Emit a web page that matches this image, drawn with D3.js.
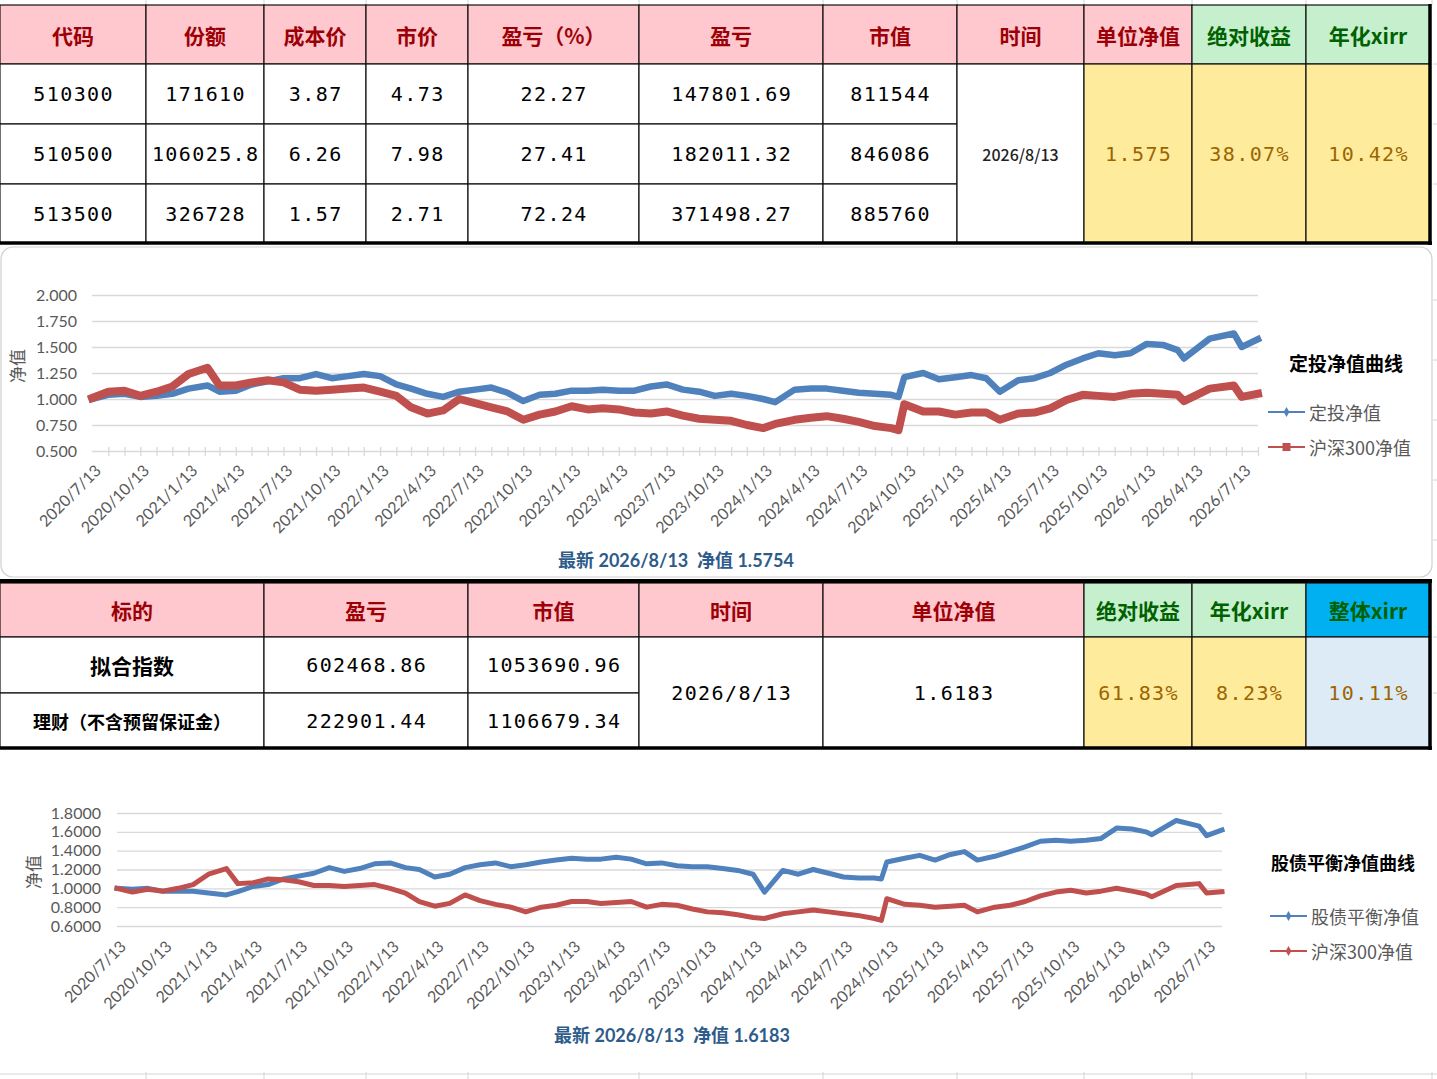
<!DOCTYPE html>
<html><head><meta charset="utf-8">
<script src="https://cdn.jsdelivr.net/npm/d3@7"></script>
<style>html,body{margin:0;padding:0;background:#fff;overflow:hidden}</style>
</head><body><svg id="c" width="1437" height="1079"></svg>
<script>
// ================= DATA =================
const table1Headers = ["代码","份额","成本价","市价","盈亏（%）","盈亏","市值","时间","单位净值","绝对收益","年化xirr"];
const table1Codes = ["510300","510500","513500"];
const table1Shares = ["171610","106025.8","326728"];
const table1Cost = ["3.87","6.26","1.57"];
const table1Price = ["4.73","7.98","2.71"];
const table1PnlPct = ["22.27","27.41","72.24"];
const table1Pnl = ["147801.69","182011.32","371498.27"];
const table1Value = ["811544","846086","885760"];
const table1Date = "2026/8/13";
const table1Summary = ["1.575","38.07%","10.42%"];

const table2Headers = ["标的","盈亏","市值","时间","单位净值","绝对收益","年化xirr","整体xirr"];
const table2Names = ["拟合指数","理财（不含预留保证金）"];
const table2Pnl = ["602468.86","222901.44"];
const table2Value = ["1053690.96","1106679.34"];
const table2Date = "2026/8/13";
const table2Nav = "1.6183";
const table2Summary = ["61.83%","8.23%","10.11%"];

const navDates = [
"2020/7/13","2020/8/13","2020/9/13","2020/10/13","2020/11/13","2020/12/13",
"2021/1/13","2021/2/18","2021/3/13","2021/4/13","2021/5/13","2021/6/13","2021/7/13","2021/8/13","2021/9/13","2021/10/13","2021/11/13","2021/12/13",
"2022/1/13","2022/2/13","2022/3/13","2022/4/13","2022/5/13","2022/6/13","2022/7/13","2022/8/13","2022/9/13","2022/10/13","2022/11/13","2022/12/13",
"2023/1/13","2023/2/13","2023/3/13","2023/4/13","2023/5/13","2023/6/13","2023/7/13","2023/8/13","2023/9/13","2023/10/13","2023/11/13","2023/12/13",
"2024/1/13","2024/2/5","2024/3/13","2024/4/13","2024/5/13","2024/6/13","2024/7/13","2024/8/13","2024/9/13","2024/9/27","2024/10/8","2024/11/13","2024/12/13",
"2025/1/13","2025/2/13","2025/3/13","2025/4/8","2025/5/13","2025/6/13","2025/7/13","2025/8/13","2025/9/13","2025/10/13","2025/11/13","2025/12/13",
"2026/1/13","2026/2/13","2026/3/13","2026/3/25","2026/5/13","2026/6/28","2026/7/13","2026/8/13"];

const dingtouNav = [
1.00,1.04,1.05,1.02,1.03,1.05,1.10,
1.13,
1.07,1.08,1.14,1.17,1.20,1.20,1.24,1.20,1.22,1.24,1.22,
1.14,1.10,1.05,1.02,1.07,1.09,1.11,1.06,0.98,1.04,1.05,1.08,
1.08,1.09,1.08,1.08,1.12,1.14,1.09,1.07,1.03,1.05,1.03,1.00,
0.97,
1.09,1.10,1.10,1.08,1.06,1.05,1.04,
1.02,1.21,
1.25,1.19,1.21,1.23,1.20,
1.07,
1.18,1.20,1.25,1.33,1.39,1.44,1.42,1.44,1.53,1.52,1.47,
1.39,
1.58,1.63,1.50,1.575];

const hs300NavA = [
1.01,1.07,1.08,1.03,1.07,1.12,1.24,
1.30,
1.13,1.13,1.16,1.18,1.16,1.09,1.08,1.09,1.10,1.11,1.07,
1.03,0.92,0.86,0.89,1.00,0.96,0.92,0.88,0.80,0.85,0.88,0.93,
0.90,0.91,0.90,0.87,0.86,0.88,0.84,0.81,0.80,0.79,0.75,0.72,
0.76,
0.80,0.82,0.835,0.81,0.78,0.74,0.72,
0.70,0.95,
0.88,0.88,0.85,0.87,0.87,
0.80,
0.86,0.87,0.91,0.99,1.04,1.03,1.02,1.05,1.06,1.05,1.04,
0.98,
1.10,1.13,1.02,1.05];

const balanceNav = [
1.00,0.99,1.00,0.97,0.97,0.97,0.95,
0.93,
0.965,1.02,1.04,1.10,1.13,1.16,1.22,1.18,1.21,1.26,1.27,
1.22,1.20,1.12,1.15,1.22,1.25,1.27,1.23,1.25,1.28,1.30,1.32,
1.31,1.31,1.33,1.31,1.26,1.27,1.24,1.23,1.23,1.21,1.19,1.15,
0.96,
1.19,1.15,1.20,1.16,1.12,1.11,1.11,
1.10,1.28,
1.32,1.35,1.30,1.36,1.39,
1.30,
1.34,1.39,1.44,1.50,1.51,1.50,1.51,1.53,1.64,1.63,1.60,
1.57,
1.72,1.66,1.56,1.62];

const hs300NavB = [
1.00,0.96,0.99,0.97,1.00,1.04,1.15,
1.21,
1.05,1.06,1.10,1.09,1.07,1.03,1.03,1.02,1.03,1.04,1.00,
0.95,0.86,0.81,0.84,0.93,0.87,0.83,0.80,0.75,0.80,0.82,0.86,
0.86,0.84,0.85,0.86,0.80,0.83,0.82,0.78,0.75,0.74,0.72,0.69,
0.68,
0.73,0.75,0.77,0.75,0.73,0.71,0.68,
0.66,0.89,
0.83,0.82,0.80,0.81,0.82,
0.75,
0.80,0.82,0.86,0.92,0.96,0.98,0.95,0.97,1.00,0.97,0.94,
0.91,
1.03,1.05,0.95,0.965];

const xTickLabels = ["2020/7/13","2020/10/13","2021/1/13","2021/4/13","2021/7/13","2021/10/13",
"2022/1/13","2022/4/13","2022/7/13","2022/10/13","2023/1/13","2023/4/13","2023/7/13","2023/10/13",
"2024/1/13","2024/4/13","2024/7/13","2024/10/13","2025/1/13","2025/4/13","2025/7/13","2025/10/13",
"2026/1/13","2026/4/13","2026/7/13"];
const yTicksA = [0.5,0.75,1.0,1.25,1.5,1.75,2.0];
const yTicksB = [0.6,0.8,1.0,1.2,1.4,1.6,1.8];

const chart1Title = "定投净值曲线";
const chart1Names = ["定投净值","沪深300净值"];
const chart1Caption = "最新 2026/8/13  净值 1.5754";
const chart2Title = "股债平衡净值曲线";
const chart2Names = ["股债平衡净值","沪深300净值"];
const chart2Caption = "最新 2026/8/13  净值 1.6183";
const yAxisTitle = "净值";

// ================= STYLE / LAYOUT =================
const CJK = "'Noto Sans CJK SC', sans-serif";
const MONO = "'DejaVu Sans Mono', monospace";
const AX = "Lato, 'Noto Sans CJK SC', sans-serif";
const PINK="#FFC7CE", GREEN="#C6EFCE", YELLOW="#FFEB9C", BLUE="#00B0F0", LBLUE="#DDEBF7";
const hdrRed={ff:CJK,fs:21,fw:700,color:"#9C0006"};
const hdrGreen={ff:CJK,fs:21,fw:700,color:"#006100"};
const num={ff:MONO,fs:20,color:"#000",ls:1.4};
const numY={ff:MONO,fs:20,color:"#9C6500",ls:1.4};
const C_BLUE="#4F81BD", C_RED="#C0504D", C_AX="#595959";

const svg = d3.select("#c");
const parseD = d3.timeParse("%Y/%m/%d");

// background spreadsheet grid remnants
const bg = svg.append("g");
const gridCols=[146,264,366,468,639,823,957,1084,1192,1306,1432];
gridCols.forEach(cx=>{
  bg.append("line").attr("x1",cx).attr("x2",cx).attr("y1",0).attr("y2",5).attr("stroke","#D4D4D4");
  bg.append("line").attr("x1",cx).attr("x2",cx).attr("y1",1072).attr("y2",1079).attr("stroke","#D4D4D4");
});
bg.append("line").attr("x1",0).attr("x2",1437).attr("y1",1074).attr("y2",1074).attr("stroke","#D4D4D4");
[64,124,184,300,360,420,480,540,637,693,810,870,930,990].forEach(ry=>{
  bg.append("line").attr("x1",1433).attr("x2",1437).attr("y1",ry).attr("y2",ry).attr("stroke","#D4D4D4");
});

function drawCell(g,x0,x1,y0,y1,fill,text,st){
  g.append("rect").attr("x",x0).attr("y",y0).attr("width",x1-x0).attr("height",y1-y0)
    .attr("fill",fill).attr("stroke","#111").attr("stroke-width",1.2);
  if(text!=null){
    g.append("text").attr("x",(x0+x1)/2+(st.ls||0)/2).attr("y",(y0+y1)/2)
     .attr("text-anchor","middle").attr("dominant-baseline","central")
     .attr("font-family",st.ff).attr("font-size",st.fs).attr("font-weight",st.fw||400)
     .attr("letter-spacing",st.ls||0).attr("fill",st.color).text(text);
  }
}

// ---- Table 1 ----
(function(){
  const g = svg.append("g");
  const cols=[0,146,264,366,468,639,823,957,1084,1192,1306,1430], rows=[5,64,124,184,243];
  table1Headers.forEach((h,i)=>drawCell(g,cols[i],cols[i+1],rows[0],rows[1],i>=9?GREEN:PINK,h,i>=9?hdrGreen:hdrRed));
  const dataCols=[table1Codes,table1Shares,table1Cost,table1Price,table1PnlPct,table1Pnl,table1Value];
  for(let r=0;r<3;r++) dataCols.forEach((arr,c)=>drawCell(g,cols[c],cols[c+1],rows[r+1],rows[r+2],"#fff",arr[r],num));
  drawCell(g,cols[7],cols[8],rows[1],rows[4],"#fff",table1Date,{ff:CJK,fs:16,fw:500,color:"#222"});
  table1Summary.forEach((s,k)=>drawCell(g,cols[8+k],cols[9+k],rows[1],rows[4],YELLOW,s,numY));
  g.append("line").attr("x1",0).attr("x2",1432).attr("y1",243).attr("y2",243).attr("stroke","#000").attr("stroke-width",3.5);
  g.append("line").attr("x1",1430).attr("x2",1430).attr("y1",4).attr("y2",245).attr("stroke","#000").attr("stroke-width",3.5);
})();

// ---- Table 2 ----
(function(){
  const g = svg.append("g");
  const cols=[0,264,468,639,823,1084,1192,1306,1430], rows=[583,637,693,748];
  table2Headers.forEach((h,i)=>{
    const fill = i<5?PINK:(i<7?GREEN:BLUE);
    drawCell(g,cols[i],cols[i+1],rows[0],rows[1],fill,h,i<5?hdrRed:hdrGreen);
  });
  const nameSt=[{ff:CJK,fs:21,fw:700,color:"#000"},{ff:CJK,fs:18,fw:700,color:"#000"}];
  for(let r=0;r<2;r++){
    drawCell(g,cols[0],cols[1],rows[r+1],rows[r+2],"#fff",table2Names[r],nameSt[r]);
    drawCell(g,cols[1],cols[2],rows[r+1],rows[r+2],"#fff",table2Pnl[r],num);
    drawCell(g,cols[2],cols[3],rows[r+1],rows[r+2],"#fff",table2Value[r],num);
  }
  drawCell(g,cols[3],cols[4],rows[1],rows[3],"#fff",table2Date,num);
  drawCell(g,cols[4],cols[5],rows[1],rows[3],"#fff",table2Nav,num);
  const fills=[YELLOW,YELLOW,LBLUE];
  table2Summary.forEach((s,k)=>drawCell(g,cols[5+k],cols[6+k],rows[1],rows[3],fills[k],s,numY));
  g.append("line").attr("x1",0).attr("x2",1432).attr("y1",581).attr("y2",581).attr("stroke","#000").attr("stroke-width",4);
  g.append("line").attr("x1",0).attr("x2",1432).attr("y1",748).attr("y2",748).attr("stroke","#000").attr("stroke-width",3.5);
  g.append("line").attr("x1",1430).attr("x2",1430).attr("y1",580).attr("y2",750).attr("stroke","#000").attr("stroke-width",3.5);
})();

// ---- Charts ----
function drawChart(cfg){
  const g = svg.append("g");
  g.append("rect").attr("x",cfg.box[0]).attr("y",cfg.box[1]).attr("width",cfg.box[2]).attr("height",cfg.box[3])
   .attr("rx",cfg.boxR).attr("fill","#fff").attr("stroke",cfg.boxStroke).attr("stroke-width",1.2);
  const dates = navDates.map(parseD);
  const x = d3.scaleTime().domain([dates[0],dates[dates.length-1]]).range([cfg.x0,cfg.x1]);
  const y = d3.scaleLinear().domain(cfg.yDomain).range([cfg.yB,cfg.yT]);

  const ya = g.append("g").attr("transform",`translate(${cfg.x0},0)`)
    .call(d3.axisLeft(y).tickValues(cfg.yTicks).tickFormat(d3.format(cfg.yFmt)).tickSize(-(cfg.x1-cfg.x0)).tickPadding(cfg.yPad));
  ya.select(".domain").remove();
  ya.selectAll("line").attr("stroke","#D9D9D9").attr("stroke-width",1.3);
  ya.selectAll("text").attr("font-family",AX).attr("font-size",16).attr("fill",C_AX);

  if(cfg.minorTicks){
    const mt = g.append("g").attr("transform",`translate(0,${cfg.yB-4})`)
      .call(d3.axisBottom(x).tickValues(d3.timeMonth.range(dates[0],dates[dates.length-1]).map(d=>d3.timeDay.offset(d,12))).tickSize(9).tickFormat(""));
    mt.select(".domain").remove();
    mt.selectAll("line").attr("stroke","#D9D9D9").attr("stroke-width",1.3);
  }
  const xa = g.append("g").attr("transform",`translate(0,${cfg.yB})`)
    .call(d3.axisBottom(x).tickValues(xTickLabels.map(parseD)).tickSize(0).tickFormat(d3.timeFormat("%Y/%-m/%-d")));
  xa.select(".domain").remove();
  xa.selectAll("text").attr("y",0).attr("dy",null).attr("text-anchor","end").attr("dominant-baseline","central")
    .attr("transform",`translate(5,${cfg.xLabOff}) rotate(-45)`)
    .attr("font-family",AX).attr("font-size",16).attr("fill",C_AX);

  g.append("text").attr("transform",`translate(${cfg.yTitle[0]},${cfg.yTitle[1]}) rotate(-90)`)
   .attr("text-anchor","middle").attr("dominant-baseline","central")
   .attr("font-family",CJK).attr("font-size",17).attr("fill",C_AX).text(yAxisTitle);

  const line = d3.line().x((d,i)=>x(dates[i])).y(d=>y(d)).curve(d3.curveLinear);
  cfg.series.forEach(s=>{
    g.append("path").datum(s.values).attr("d",line).attr("fill","none")
     .attr("stroke",s.color).attr("stroke-width",s.width).attr("stroke-linejoin","round").attr("stroke-linecap","square");
  });

  g.append("text").attr("x",cfg.legTitle[0]).attr("y",cfg.legTitle[1]).attr("text-anchor","middle").attr("dominant-baseline","central")
   .attr("font-family",CJK).attr("font-size",cfg.legTitleFs).attr("font-weight",700).attr("fill","#000").text(cfg.title);
  cfg.series.forEach((s,i)=>{
    const ly = cfg.legY[i];
    g.append("line").attr("x1",cfg.legX).attr("x2",cfg.legX+37).attr("y1",ly).attr("y2",ly).attr("stroke",s.color).attr("stroke-width",2);
    const mx = cfg.legX+18.5;
    if(s.marker==="square") g.append("rect").attr("x",mx-4).attr("y",ly-4).attr("width",8).attr("height",8).attr("fill",s.color);
    else g.append("path").attr("d",d3.symbol(d3.symbolDiamond,28)()).attr("transform",`translate(${mx},${ly})`).attr("fill",s.color);
    g.append("text").attr("x",cfg.legX+41).attr("y",ly).attr("dominant-baseline","central")
     .attr("font-family",CJK).attr("font-size",18).attr("fill",C_AX).text(s.name);
  });

  g.append("text").attr("x",cfg.cap[0]).attr("y",cfg.cap[1]).attr("text-anchor","middle").attr("dominant-baseline","central")
   .style("white-space","pre")
   .attr("font-family",AX).attr("font-size",18).attr("font-weight",700).attr("fill","#2E5C8A").text(cfg.caption);
}

drawChart({
  box:[1,247,1431,330], boxR:12, boxStroke:"#D0D0D0",
  x0:92, x1:1258, yT:295, yB:451, yDomain:[0.5,2.0], yTicks:yTicksA, yFmt:".3f", yPad:15,
  minorTicks:true, xLabOff:16, yTitle:[16,366],
  series:[
    {name:chart1Names[0], values:dingtouNav, color:C_BLUE, width:6.5, marker:"diamond"},
    {name:chart1Names[1], values:hs300NavA, color:C_RED, width:8, marker:"square"}
  ],
  title:chart1Title, legTitle:[1346,362], legTitleFs:19, legX:1268, legY:[412,447],
  caption:chart1Caption, cap:[676,560]
});

drawChart({
  box:[0,752,1437,320], boxR:0, boxStroke:"none",
  x0:117, x1:1222, yT:813, yB:926, yDomain:[0.6,1.8], yTicks:yTicksB, yFmt:".4f", yPad:16,
  minorTicks:false, xLabOff:17, yTitle:[32,872],
  series:[
    {name:chart2Names[0], values:balanceNav, color:C_BLUE, width:5, marker:"diamond"},
    {name:chart2Names[1], values:hs300NavB, color:C_RED, width:5, marker:"diamond"}
  ],
  title:chart2Title, legTitle:[1343,862], legTitleFs:18, legX:1270, legY:[916,951],
  caption:chart2Caption, cap:[672,1035]
});
</script></body></html>
